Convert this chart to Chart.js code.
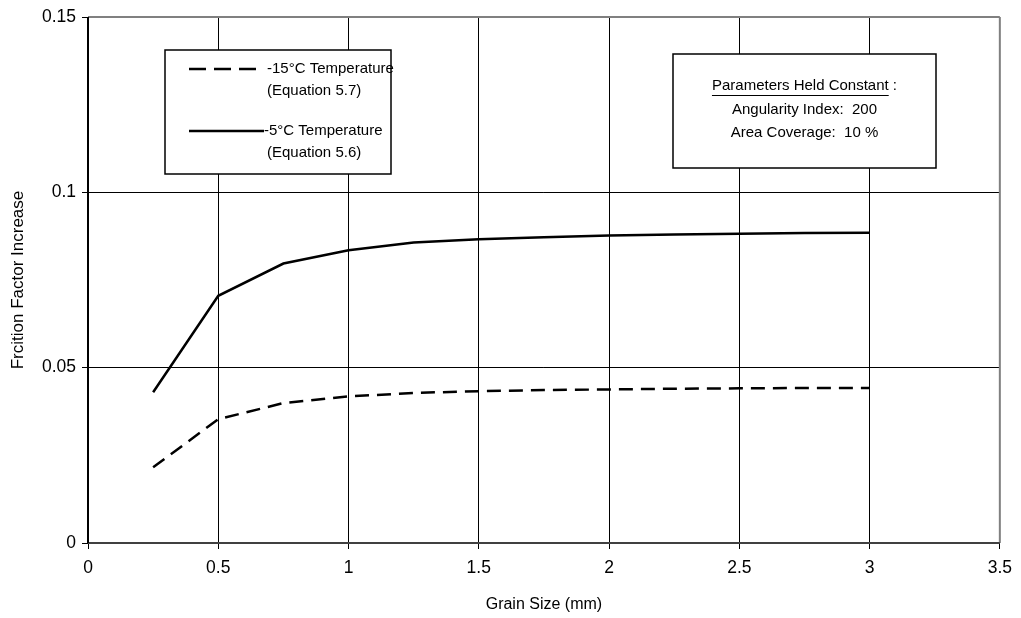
<!DOCTYPE html>
<html>
<head>
<meta charset="utf-8">
<script src="https://cdn.jsdelivr.net/npm/chart.js@4/dist/chart.umd.min.js"></script>
<style>
  html, body { margin: 0; padding: 0; background: #ffffff; }
  #wrap { width: 1021px; height: 618px; position: relative; }
</style>
</head>
<body>
<div id="wrap"><canvas id="c" width="1021" height="618"></canvas></div>
<script>
// Grain size (mm) at which the friction factor increase was computed
const grainSize = [0.25, 0.5, 0.75, 1, 1.25, 1.5, 1.75, 2, 2.25, 2.5, 2.75, 3];
// -5°C temperature (Equation 5.6)
const minus5C = [0.0430, 0.0705, 0.0797, 0.0835, 0.0857, 0.0866, 0.0872, 0.0877, 0.0880, 0.0882, 0.0884, 0.0885];
// -15°C temperature (Equation 5.7)
const minus15C = [0.0216, 0.0353, 0.0399, 0.0418, 0.0428, 0.0433, 0.0436, 0.0438, 0.0440, 0.0441, 0.0442, 0.0442];

const legendLines = [
  { label: '-15°C Temperature', sub: '(Equation 5.7)', dash: [17, 8] },
  { label: '-5°C Temperature', sub: '(Equation 5.6)', dash: [] }
];
const paramsTitle = 'Parameters Held Constant';
const paramsLines = ['Angularity Index:  200', 'Area Coverage:  10 %'];

const FONT = '"Liberation Sans", Arial, sans-serif';

function toPoints(xs, ys) {
  return xs.map((x, i) => ({ x: x, y: ys[i] }));
}

// tick text without trailing zeros: 0.1, 0.05, 1, 2.5
function plainNumber(value) {
  return String(Number(Number(value).toFixed(3)));
}

// Plot frame: grey top/right edges, dark axis lines on left/bottom
const framePlugin = {
  id: 'frame',
  afterDatasetsDraw(chart) {
    const { ctx, chartArea: a } = chart;
    ctx.save();
    ctx.lineWidth = 2;
    ctx.strokeStyle = '#808080';
    ctx.beginPath();
    ctx.moveTo(a.left, a.top); ctx.lineTo(a.right, a.top);
    ctx.moveTo(a.right, a.top); ctx.lineTo(a.right, a.bottom);
    ctx.stroke();
    ctx.strokeStyle = '#404040';
    ctx.beginPath();
    ctx.moveTo(a.left, a.bottom); ctx.lineTo(a.right, a.bottom);
    ctx.stroke();
    ctx.strokeStyle = '#000000';
    ctx.beginPath();
    ctx.moveTo(a.left, a.top); ctx.lineTo(a.left, a.bottom);
    ctx.stroke();
    ctx.restore();
  }
};

// Series key box and the constants box inside the plot
const boxesPlugin = {
  id: 'boxes',
  afterDraw(chart) {
    const { ctx, chartArea: a } = chart;
    ctx.save();
    ctx.font = '15px ' + FONT;
    ctx.textBaseline = 'middle';

    // series key
    const kx = a.left + 77, ky = a.top + 33, kw = 226, kh = 124;
    ctx.fillStyle = '#ffffff';
    ctx.fillRect(kx, ky, kw, kh);
    ctx.strokeStyle = '#000000';
    ctx.lineWidth = 1.5;
    ctx.strokeRect(kx, ky, kw, kh);

    legendLines.forEach((item, i) => {
      const y = ky + 19 + i * 62;
      ctx.strokeStyle = '#000000';
      ctx.lineWidth = 2.5;
      ctx.setLineDash(item.dash);
      ctx.beginPath();
      ctx.moveTo(kx + 24, y);
      ctx.lineTo(kx + (item.dash.length ? 97 : 99), y);
      ctx.stroke();
      ctx.setLineDash([]);
      ctx.fillStyle = '#000000';
      ctx.textAlign = 'left';
      ctx.fillText(item.label, kx + (item.dash.length ? 102 : 99), y);
      ctx.fillText(item.sub, kx + 102, y + 22);
    });

    // constants box
    const px = a.left + 585, py = a.top + 37, pw = 263, ph = 114;
    ctx.fillStyle = '#ffffff';
    ctx.fillRect(px, py, pw, ph);
    ctx.strokeStyle = '#000000';
    ctx.lineWidth = 1.5;
    ctx.strokeRect(px, py, pw, ph);

    const cx = px + pw / 2;
    ctx.fillStyle = '#000000';
    const tail = ' :';
    const wTitle = ctx.measureText(paramsTitle).width;
    const wTail = ctx.measureText(tail).width;
    const startX = cx - (wTitle + wTail) / 2;
    const ty = py + 32;
    ctx.textAlign = 'left';
    ctx.fillText(paramsTitle, startX, ty);
    ctx.fillText(tail, startX + wTitle, ty);
    ctx.lineWidth = 1;
    ctx.beginPath();
    ctx.moveTo(startX, ty + 9.5);
    ctx.lineTo(startX + wTitle, ty + 9.5);
    ctx.stroke();
    ctx.textAlign = 'center';
    paramsLines.forEach((t, i) => {
      ctx.fillText(t, cx, ty + 24 + i * 23);
    });
    ctx.restore();
  }
};

new Chart(document.getElementById('c'), {
  type: 'scatter',
  data: {
    datasets: [
      {
        label: '-15°C Temperature',
        data: toPoints(grainSize, minus15C),
        showLine: true,
        borderColor: '#000000',
        borderWidth: 2.5,
        borderDash: [14, 8],
        pointRadius: 0,
        tension: 0,
        fill: false
      },
      {
        label: '-5°C Temperature',
        data: toPoints(grainSize, minus5C),
        showLine: true,
        borderColor: '#000000',
        borderWidth: 2.5,
        pointRadius: 0,
        tension: 0,
        fill: false
      }
    ]
  },
  options: {
    responsive: false,
    animation: false,
    devicePixelRatio: 1,
    layout: { padding: { top: 17, right: 18, left: 0, bottom: 0 } },
    plugins: {
      legend: { display: false },
      tooltip: { enabled: false }
    },
    scales: {
      x: {
        type: 'linear',
        min: 0,
        max: 3.5,
        afterFit(scale) { scale.height = 75; },
        ticks: {
          stepSize: 0.5,
          color: '#000000',
          padding: 9,
          font: { family: FONT, size: 17.5 },
          callback: plainNumber
        },
        grid: {
          color: '#000000',
          lineWidth: 1,
          tickLength: 6,
          tickColor: '#000000'
        },
        border: { display: false },
        title: {
          display: true,
          text: 'Grain Size (mm)',
          color: '#000000',
          font: { family: FONT, size: 16 },
          padding: { top: 0, bottom: 4 }
        }
      },
      y: {
        type: 'linear',
        min: 0,
        max: 0.15,
        afterFit(scale) { scale.width = 88; },
        ticks: {
          stepSize: 0.05,
          color: '#000000',
          padding: 6,
          font: { family: FONT, size: 17.5 },
          callback: plainNumber
        },
        grid: {
          color: '#000000',
          lineWidth: 1,
          tickLength: 6,
          tickColor: '#000000'
        },
        border: { display: false },
        title: {
          display: true,
          text: 'Frcition Factor Increase',
          color: '#000000',
          font: { family: FONT, size: 17 },
          padding: { top: 8, bottom: 0 }
        }
      }
    }
  },
  plugins: [framePlugin, boxesPlugin]
});
</script>
</body>
</html>
